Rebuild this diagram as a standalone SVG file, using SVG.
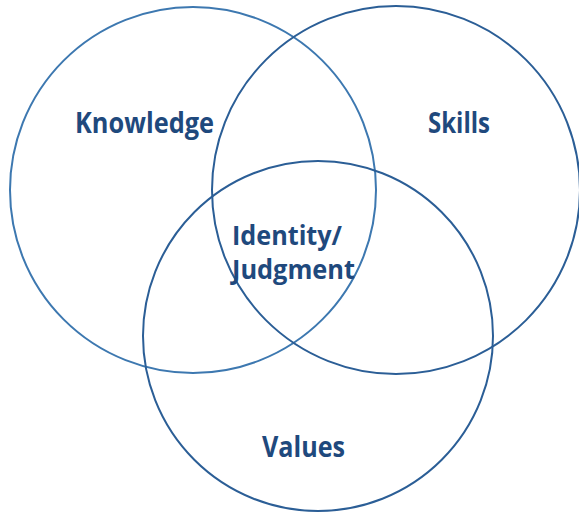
<svg xmlns="http://www.w3.org/2000/svg" width="579" height="513" viewBox="0 0 579 513">
<style>
.c{fill:none;stroke-width:2}
.t{font-family:"Open Sans","Noto Sans","Liberation Sans",sans-serif;font-weight:bold;font-size:28px;fill:#1f497d}
.s{font-size:26px}
</style>
<rect width="579" height="513" fill="#ffffff"/>
<g id="knowledge"><circle class="c" cx="193" cy="190" r="183" stroke="#3d78b0"/><text class="t" x="75" y="133" textLength="139" lengthAdjust="spacingAndGlyphs">Knowledge</text></g>
<g id="skills"><circle class="c" cx="396" cy="190" r="184" stroke="#2b5e96"/><text class="t" x="428" y="133" textLength="62" lengthAdjust="spacingAndGlyphs">Skills</text></g>
<g id="values"><circle class="c" cx="318" cy="336" r="175" stroke="#2b5e96"/><text class="t" x="262" y="457" textLength="83" lengthAdjust="spacingAndGlyphs">Values</text></g>
<g id="identity"><text class="t s" x="232" y="245" textLength="110" lengthAdjust="spacingAndGlyphs">Identity/</text><text class="t s" x="232" y="279" textLength="123" lengthAdjust="spacingAndGlyphs">Judgment</text></g>
<g id="connectors"></g>
</svg>
